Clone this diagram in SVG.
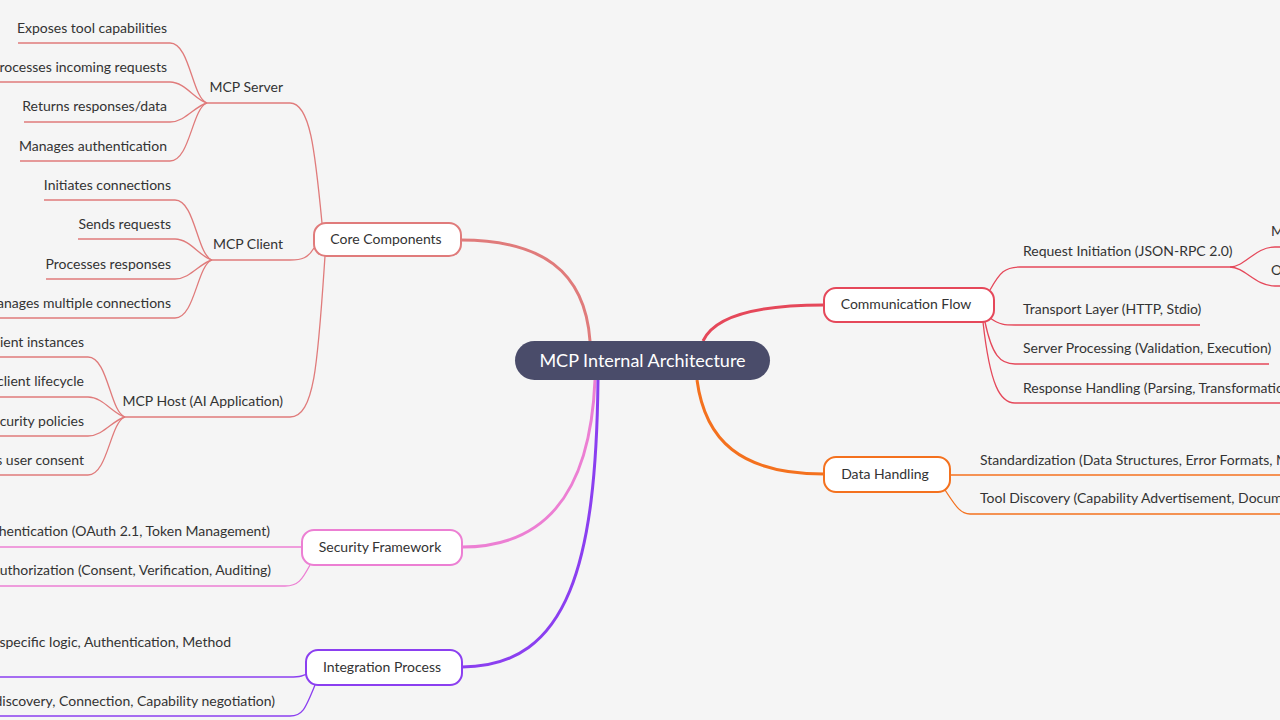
<svg xmlns="http://www.w3.org/2000/svg" width="1280" height="720" viewBox="0 0 1280 720">
<style>
text{font-family:"Source Sans Pro","Lato","Noto Sans",sans-serif;font-size:14px;fill:#333}
.e{text-anchor:end}.m{text-anchor:middle}
.n{fill:#fff;stroke-width:2}
path{fill:none}
.c{stroke:#e07b7b}.f{stroke:#e5485a}.d{stroke:#f4711e}.s{stroke:#ec7fd3}.i{stroke:#8b3ff0}
.t{stroke-width:3}.l{stroke-width:1.3}
</style>
<rect width="1280" height="720" fill="#f5f5f5"/>
<g id="connectors">
<path class="c t" d="M590,341 C585,270 540,240 461,240"/>
<path class="s t" d="M595,380 C590,500 540,547 462,547"/>
<path class="i t" d="M598,380 C596,560 570,667 462,667"/>
<path class="f t" d="M703,341 C715,315 760,305 824,305"/>
<path class="d t" d="M697,380 C705,440 740,474 824,474"/>
<g class="l">
<path class="c" d="M322,223 C315,150 310,103 290,103 L207,103"/>
<path class="c" d="M314,248 C308,258 302,260 290,260 L212,260"/>
<path class="c" d="M325,256 C318,360 315,417 290,417 L125,417"/>
<path class="c" d="M207,103 C192,98 190,43 170,43 L18,43"/>
<path class="c" d="M207,103 C195,100 185,82 170,82 L0,82"/>
<path class="c" d="M207,103 C195,106 185,122 170,122 L24,122"/>
<path class="c" d="M207,103 C192,108 190,161 170,161 L20,161"/>
<path class="c" d="M212,260 C197,255 195,200 175,200 L44,200"/>
<path class="c" d="M212,260 C200,257 190,239 175,239 L78,239"/>
<path class="c" d="M212,260 C200,263 190,279 175,279 L46,279"/>
<path class="c" d="M212,260 C197,265 195,318 175,318 L0,318"/>
<path class="c" d="M125,417 C110,412 108,357 88,357 L0,357"/>
<path class="c" d="M125,417 C113,414 103,397 88,397 L0,397"/>
<path class="c" d="M125,417 C113,420 103,436 88,436 L0,436"/>
<path class="c" d="M125,417 C110,422 108,475 88,475 L0,475"/>
<path class="s" d="M302,547 L0,547"/>
<path class="s" d="M310,565 C302,580 298,586 285,586 L0,586"/>
<path class="i" d="M310,672 C304,676 300,677 290,677 L0,677"/>
<path class="i" d="M315,685 C305,710 302,716 290,716 L0,716"/>
<path class="f" d="M990,290 C1000,272 1005,267 1020,267 L1230,267 C1245,267 1255,247 1275,247 L1280,247"/>
<path class="f" d="M1230,267 C1245,267 1255,286 1275,286 L1280,286"/>
<path class="f" d="M990,318 C1000,325 1005,325 1015,325 L1200,325"/>
<path class="f" d="M985,322 C992,355 1000,364 1015,364 L1269,364"/>
<path class="f" d="M983,322 C990,385 1000,403 1015,403 L1280,403"/>
<path class="d" d="M950,475 L1280,475"/>
<path class="d" d="M945,490 C955,505 960,514 970,514 L1280,514"/>
</g>
</g>
<g id="center"><rect x="515" y="341" width="255" height="39" rx="19.5" fill="#4a4c6a"/><text x="642.5" y="367" class="m" style="fill:#fff;font-size:18px">MCP Internal Architecture</text></g>
<g id="core"><rect class="n c" x="314" y="223" width="147" height="33" rx="12"/><text x="386" y="244" class="m">Core Components</text></g>
<g id="comm"><rect class="n f" x="824" y="288" width="170" height="34" rx="12"/><text x="906" y="309" class="m">Communication Flow</text></g>
<g id="data"><rect class="n d" x="824" y="457" width="126" height="35" rx="12"/><text x="885" y="479" class="m">Data Handling</text></g>
<g id="security"><rect class="n s" x="302" y="530" width="160" height="35" rx="12"/><text x="380" y="552" class="m">Security Framework</text></g>
<g id="integration"><rect class="n i" x="306" y="650" width="156" height="35" rx="12"/><text x="382" y="672" class="m">Integration Process</text></g>
<g id="leaves">
<text x="283" y="92" class="e">MCP Server</text>
<text x="283" y="249" class="e">MCP Client</text>
<text x="283" y="406" class="e">MCP Host (AI Application)</text>
<text x="167" y="33" class="e">Exposes tool capabilities</text>
<text x="167" y="72" class="e">Processes incoming requests</text>
<text x="167" y="111" class="e">Returns responses/data</text>
<text x="167" y="151" class="e">Manages authentication</text>
<text x="171" y="190" class="e">Initiates connections</text>
<text x="171" y="229" class="e">Sends requests</text>
<text x="171" y="269" class="e">Processes responses</text>
<text x="171" y="308" class="e">anages multiple connections</text>
<text x="84" y="347" class="e">lient instances</text>
<text x="84" y="386" class="e">client lifecycle</text>
<text x="84" y="426" class="e">curity policies</text>
<text x="84" y="465" class="e">s user consent</text>
<text x="270" y="536" class="e">uthentication (OAuth 2.1, Token Management)</text>
<text x="271" y="575" class="e">Authorization (Consent, Verification, Auditing)</text>
<text x="231" y="647" class="e">l-specific logic, Authentication, Method</text>
<text x="275" y="706" class="e">(discovery, Connection, Capability negotiation)</text>
<text x="1023" y="256">Request Initiation (JSON-RPC 2.0)</text>
<text x="1271" y="236">M</text>
<text x="1271" y="275">O</text>
<text x="1023" y="314">Transport Layer (HTTP, Stdio)</text>
<text x="1023" y="353">Server Processing (Validation, Execution)</text>
<text x="1023" y="393">Response Handling (Parsing, Transformatio</text>
<text x="980" y="465">Standardization (Data Structures, Error Formats, M</text>
<text x="980" y="503">Tool Discovery (Capability Advertisement, Docume</text>
</g>
</svg>
